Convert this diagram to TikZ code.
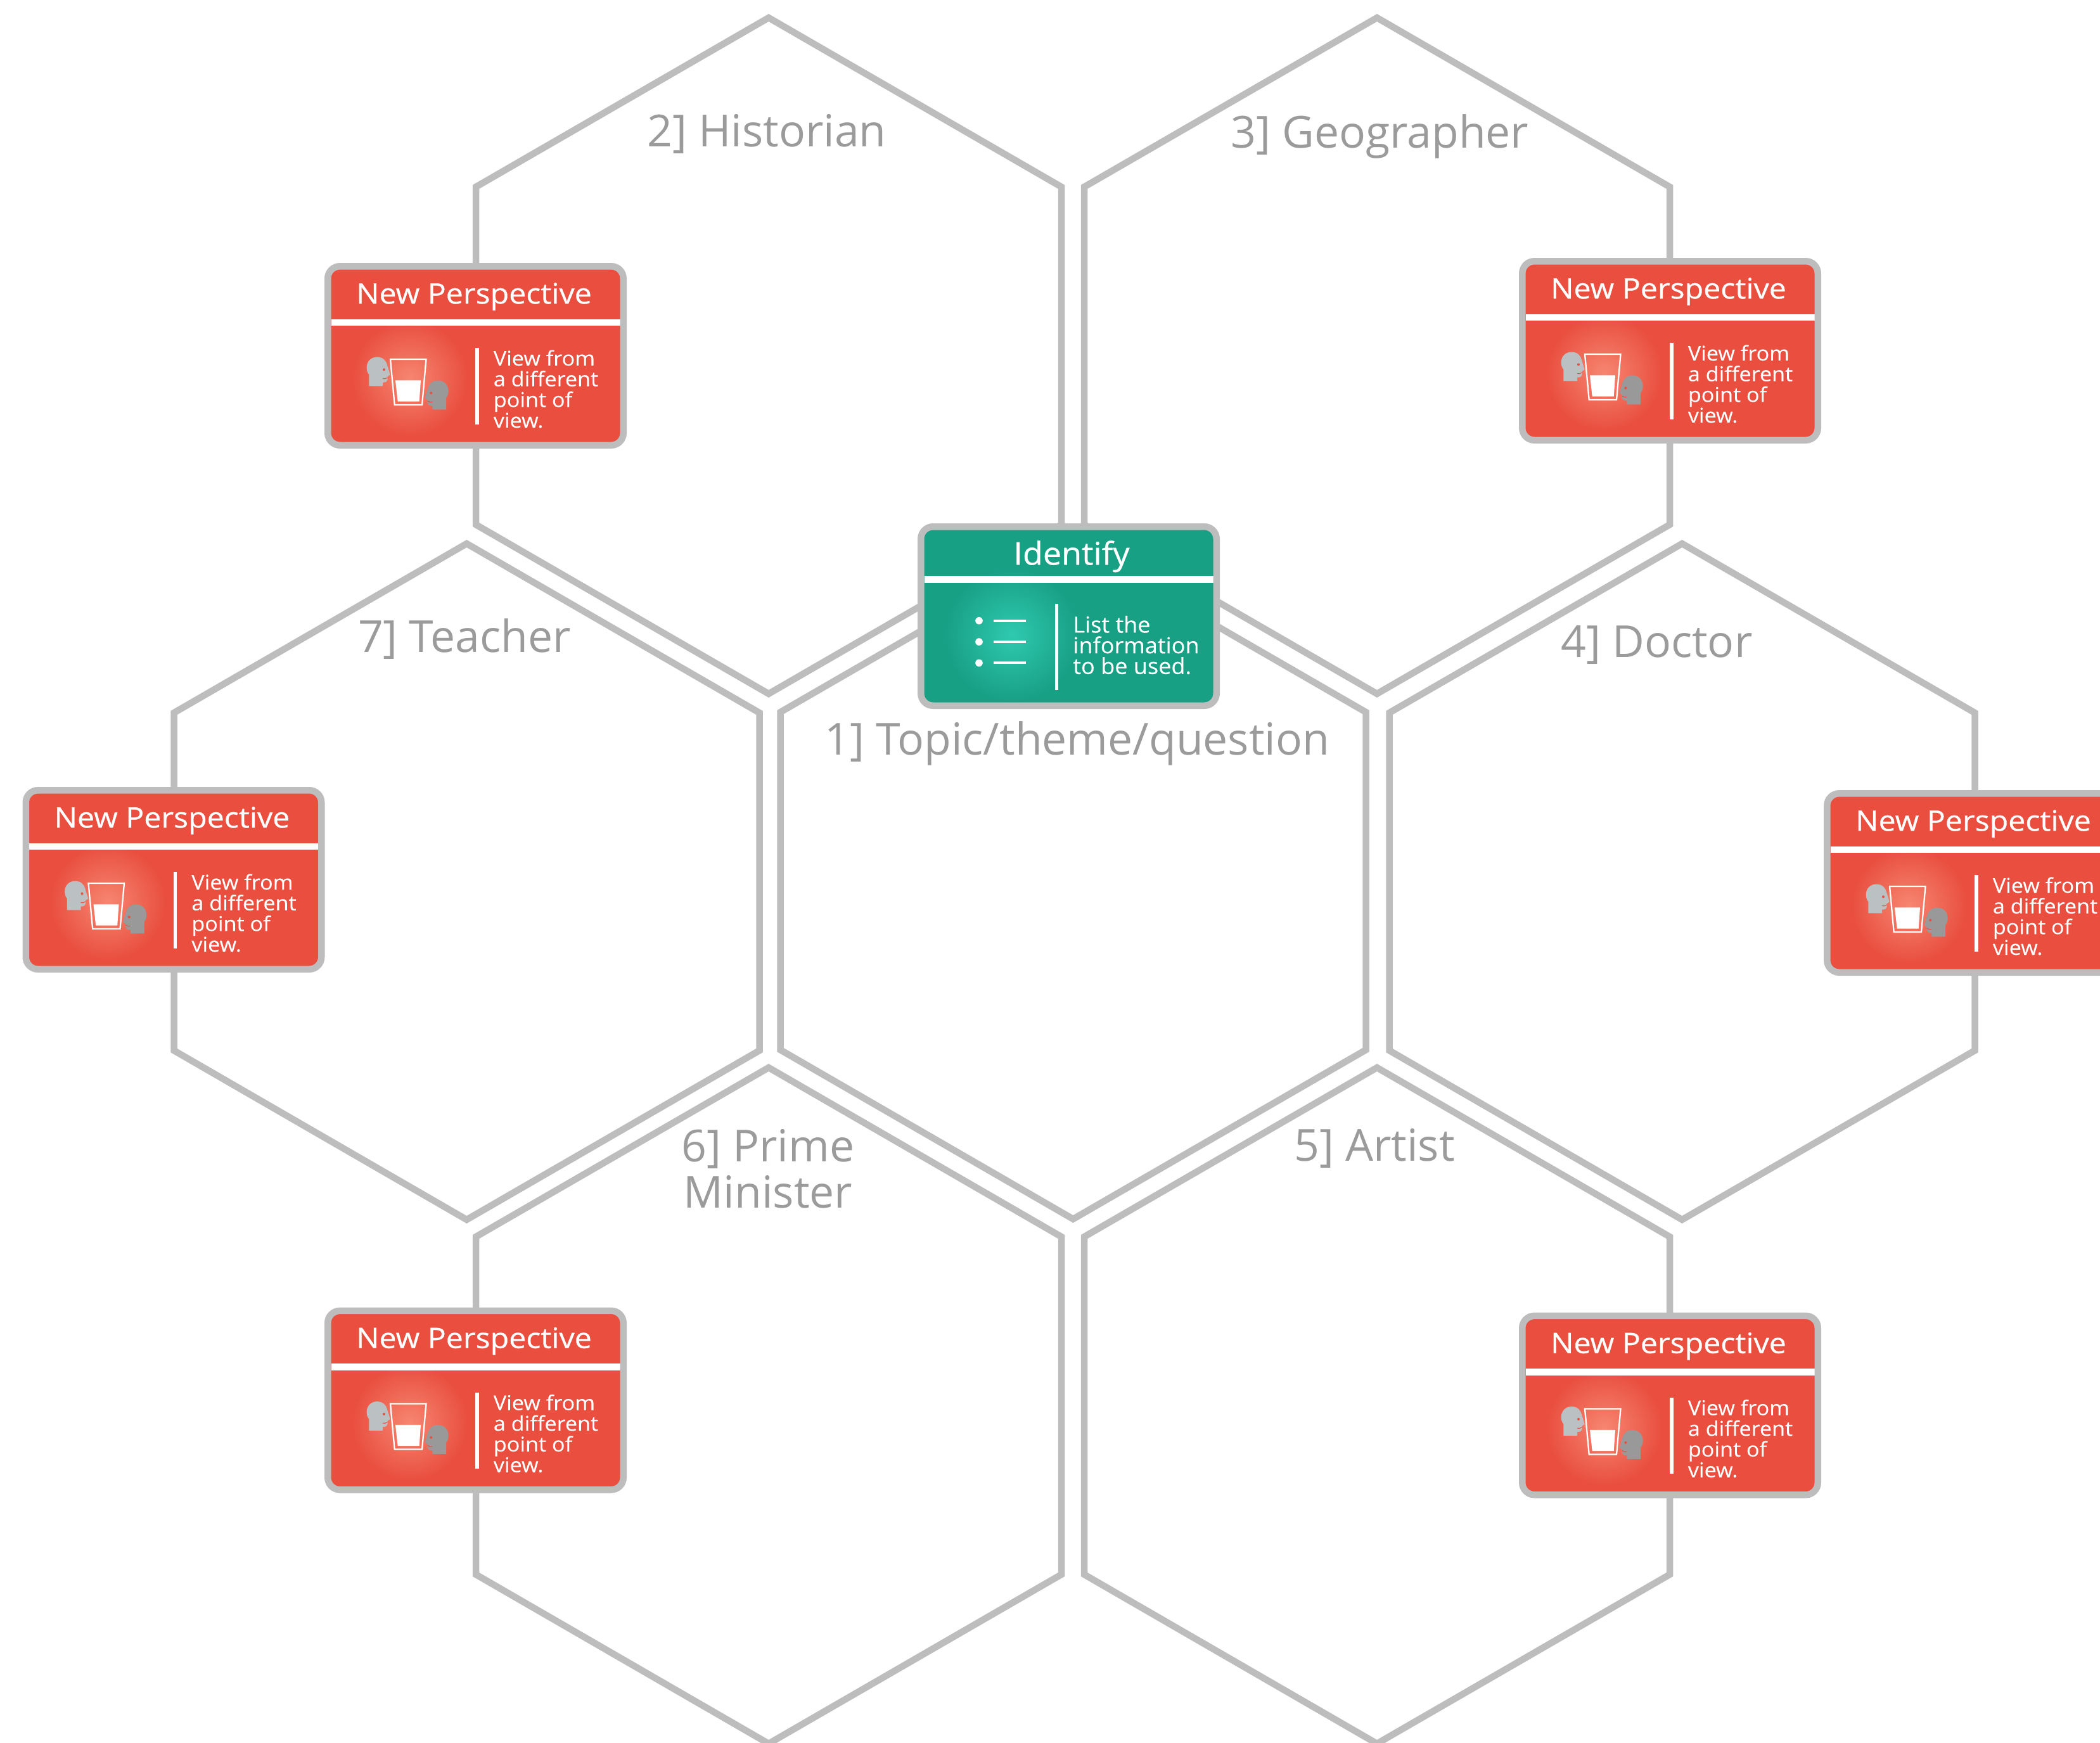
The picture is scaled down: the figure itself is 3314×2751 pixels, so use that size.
\documentclass[tikz,border=0pt]{standalone}
\usepackage{fontspec}
\setmainfont{Open Sans}
\newfontfamily\titlefont{Open Sans}[FakeStretch=1.08,FakeBold=0.6]
\newfontfamily\titlefontb{Open Sans}[FakeStretch=1.05,FakeBold=0.6]
\newfontfamily\bodyfont{Open Sans}[FakeStretch=1.065,FakeBold=0.2]
\newfontfamily\bodyfontb{Open Sans}[FakeStretch=1.03,FakeBold=0.2]
\definecolor{hexgrey}{HTML}{BDBDBD}
\definecolor{labelgrey}{HTML}{9B9B9B}
\definecolor{cardred}{HTML}{E94E3E}
\definecolor{cardgreen}{HTML}{18A085}
\definecolor{headlight}{HTML}{BBC0C3}
\definecolor{headdark}{HTML}{999999}
\pgfdeclareradialshading{glowred}{\pgfpoint{0bp}{0bp}}{rgb(0bp)=(0.965,0.525,0.443); rgb(25bp)=(0.914,0.306,0.243); rgb(50bp)=(0.914,0.306,0.243)}
\pgfdeclareradialshading{glowgreen}{\pgfpoint{0bp}{0bp}}{rgb(0bp)=(0.18,0.79,0.69); rgb(25bp)=(0.094,0.627,0.522); rgb(50bp)=(0.094,0.627,0.522)}
\tikzset{
  hexline/.style={draw=hexgrey,line width=2.52pt,miter limit=10},
  hexlabel/.style={text=labelgrey,inner sep=0pt,align=center,font=\fontsize{16.72pt}{17.3pt}\selectfont},
  cardframe/.style={rounded corners=4.6pt},
  cardtitle/.style={text=white,inner sep=0pt,anchor=base,font=\titlefont\fontsize{10.73pt}{12pt}\selectfont},
  cardtitleb/.style={text=white,inner sep=0pt,anchor=base,font=\titlefontb\fontsize{11.9pt}{13pt}\selectfont},
  cardbody/.style={text=white,inner sep=0pt,align=left,anchor=north west,font=\bodyfont\fontsize{7.7pt}{7.84pt}\selectfont},
  cardbodyb/.style={text=white,inner sep=0pt,align=left,anchor=north west,font=\bodyfontb\fontsize{8.4pt}{7.84pt}\selectfont},
}
\newcommand{\hexa}[2]{\draw[hexline] (#1,#2) -- ++(462,267) -- ++(0,533) -- ++(-462,267) -- ++(-462,-267) -- ++(0,-533) -- cycle;}
\newcommand{\headshape}[1]{%
  \fill[#1] (70.3,194.3) -- (70.3,176) .. controls (67,172) and (66.7,168) .. (66.7,165)
    .. controls (66.7,155) and (74,148.5) .. (83,148.5) .. controls (92,148.5) and (97.5,154) .. (99,161)
    -- (103.7,176.3) -- (99.7,179) -- (99.7,184) .. controls (99.5,187) and (97,188.7) .. (92,188.7)
    -- (92,194.3) -- cycle;
  \fill[cardred] (94,168.3) circle (2);
  \draw[cardred,line width=0.25pt] (92,182.5) .. controls (94,183.5) and (97,183) .. (99.5,181);}
\newcommand{\redcard}[3]{%
\begin{scope}[shift={(#1,#2)}]
  \fill[cardred,cardframe] (5.25,5.25) rectangle (471.75,287.75);
  \shade[shading=glowred] (134.7,182) circle (92);
  \fill[white] (10.5,88.7) rectangle (466.5,99.3);
  \draw[hexgrey,line width=2.52pt,cardframe] (5.25,5.25) rectangle (471.75,287.75);
  \node[cardtitle] (#3title) at (236,64.2) {New Perspective};
  \draw[white,line width=1.32pt] (241,134) -- (241,254.7);
  \node[cardbody] (#3body) at (266,136.6) {View from\\a different\\point of\\view.};
  \headshape{headlight}
  \begin{scope}[shift={(262.3,37)},xscale=-1]
    \headshape{headdark}
  \end{scope}
  \draw[white,line width=0.55pt,miter limit=10] (104,152) -- (160.5,152) -- (154,224) -- (110.7,224) -- cycle;
  \fill[white] (112,185.3) -- (152,185.3) -- (149.7,218.7) -- (115.7,218.7) -- cycle;
\end{scope}}
\newcommand{\greencard}[3]{%
\begin{scope}[shift={(#1,#2)}]
  \fill[cardgreen,cardframe] (5.25,5.25) rectangle (471.75,287.75);
  \shade[shading=glowgreen] (148.7,176) circle (105);
  \fill[white] (10.5,83.3) rectangle (466.5,94);
  \draw[hexgrey,line width=2.52pt,cardframe] (5.25,5.25) rectangle (471.75,287.75);
  \node[cardtitleb] (#3title) at (243,65.3) {Identify};
  \draw[white,line width=1.32pt] (219.7,126.7) -- (219.7,263);
  \foreach \yy in {153.7,187,220.3} {
    \fill[white] (97,\yy) circle (5.8);
    \draw[white,line width=0.96pt] (119.7,\yy) -- (170.7,\yy);
  }
  \node[cardbodyb] (#3body) at (244.5,145) {List the\\information\\to be used.};
\end{scope}}
\begin{document}
\begin{tikzpicture}[x=0.24pt,y=-0.24pt]
\useasboundingbox (0,0) rectangle (3314,2751);
\clip (0,0) rectangle (3314,2751);
\hexa{1693.5}{857}
\hexa{1213}{28}
\hexa{2173}{28}
\hexa{736.5}{858}
\hexa{2654.5}{858}
\hexa{1213}{1685}
\hexa{2173}{1685}
\node[hexlabel,anchor=base] (lab1) at (1700,1191) {1] Topic/theme/question};
\node[hexlabel,anchor=base] (lab2) at (1210,231) {2] Historian};
\node[hexlabel,anchor=base] (lab3) at (2177.5,233) {3] Geographer};
\node[hexlabel,anchor=base] (lab4) at (2614.5,1037) {4] Doctor};
\node[hexlabel,anchor=base] (lab5) at (2169,1832) {5] Artist};
\node[hexlabel,anchor=north] (lab6) at (1212,1782) {6] Prime\\Minister};
\node[hexlabel,anchor=base] (lab7) at (733,1029) {7] Teacher};
\redcard{512}{415}{cardA}
\redcard{2397}{407}{cardB}
\redcard{35.5}{1242}{cardC}
\redcard{2878}{1247}{cardD}
\redcard{512}{2063.5}{cardE}
\redcard{2397}{2071.5}{cardF}
\greencard{1448}{826}{cardG}
\end{tikzpicture}
\end{document}
